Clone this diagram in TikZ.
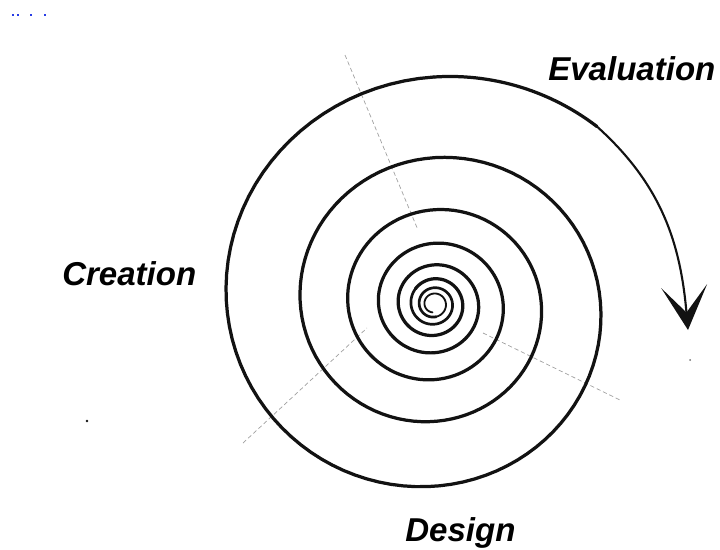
\documentclass[tikz,border=0pt]{standalone}
\usepackage{fontspec}
\setsansfont{Liberation Sans}
\usetikzlibrary{arrows.meta, positioning, calc}
\definecolor{spiralink}{RGB}{18,18,18}
\definecolor{guidegray}{RGB}{160,160,160}
\definecolor{specblue}{RGB}{40,60,230}

\tikzset{
  spiral/.style={draw=spiralink, line cap=round, line join=round},
  phase/.style={font=\sffamily\bfseries\itshape\fontsize{23.5}{28}\selectfont, inner sep=0pt, anchor=base west},
  guide/.style={draw=guidegray, densely dashed, line width=0.5pt},
}

\begin{document}
\begin{tikzpicture}[x=0.025cm, y=0.025cm,
    declare function={rsp(\t)=227*exp(-0.001217*\t); rarr(\t)=227*exp(-0.0012*\t);}]
  \useasboundingbox (0,0) rectangle (720,549);

  % faint sector lines
  \draw[guide] (345,494) -- (418,319);
  \draw[guide] (243,106) -- (367,221);
  \draw[guide] (483,216) -- (620,149);

  % the spiral, thinner towards the centre
  \draw[spiral, line width=2.3pt] plot[domain=0:1850, samples=500] ({434+1.02*rsp(\x)*cos(90+\x)}, {245+rsp(\x)*sin(90+\x)});
  \draw[spiral, line width=1.9pt] plot[domain=1850:2350, samples=200] ({434+1.02*rsp(\x)*cos(90+\x)}, {245+rsp(\x)*sin(90+\x)});
  \draw[spiral, line width=1.3pt] plot[domain=2350:2690, samples=150] ({434+1.02*rsp(\x)*cos(90+\x)}, {245+rsp(\x)*sin(90+\x)});

  % outgoing arrow
  \draw[spiral, line width=2.3pt] plot[domain=-42:0, samples=30] ({434+1.02*rarr(\x)*cos(90+\x)}, {245+rarr(\x)*sin(90+\x)});
  \coordinate (evalstart) at ({434+1.02*rarr(-42)*cos(48)}, {245+rarr(-42)*sin(48)});
  \coordinate (evaltip) at (688,219);
  \draw[spiral, line width=1.5pt, -{Stealth[length=1.1cm, width=1.15cm, inset=0.66cm]}]
    (evalstart) to[out=-42, in=95] (evaltip);

  % phase labels
  \node[phase] (evaluation) at (548,469) {Evaluation};
  \node[phase] (creation) at (62,264) {Creation};
  \node[phase] (design) at (405,8) {Design};

  % specks
  \foreach \sx in {12,17,30,44} \fill[specblue] (\sx,533) rectangle ++(2.2,2.2);
  \fill[spiralink] (87,128) circle (1.4);
  \fill[spiralink!60] (690,189) circle (1);
\end{tikzpicture}
\end{document}
